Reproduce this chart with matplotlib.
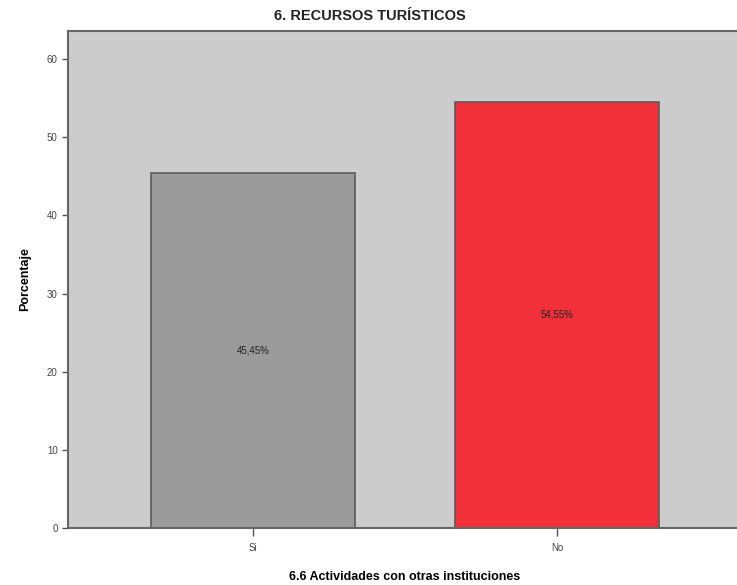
import matplotlib
matplotlib.use("Agg")
import matplotlib.pyplot as plt

categories = ["Si", "No"]
values = [45.45, 54.55]
labels = ["45,45%", "54,55%"]
colors = ["#9b9b9b", "#f1303a"]
yticks = [0, 10, 20, 30, 40, 50, 60]

plt.rcParams['font.family'] = ['Liberation Sans', 'DejaVu Sans']

fig = plt.figure(figsize=(7.37, 5.85), dpi=100)
ax = fig.add_axes([68/737, (585-528)/585, (742-68)/737, (528-31)/585])
ax.set_facecolor("#cccccc")

x = list(range(len(categories)))
bars = ax.bar(x, values, width=0.67, color=colors, edgecolor="#5a5a5a", linewidth=1.2, zorder=2)
for xi, v, lab in zip(x, values, labels):
    ax.text(xi, v / 2, lab, ha="center", va="center", fontsize=7, color="#222222", zorder=3)

ax.set_xlim(-0.608, 1.608)
ax.set_ylim(0, 63.6)
ax.set_xticks(x)
ax.set_xticklabels(categories, fontsize=7, color="#444444")
ax.set_yticks(yticks)
ax.set_yticklabels([str(t) for t in yticks], fontsize=7, color="#444444")
ax.tick_params(axis="x", length=6, width=1, color="#555555", pad=5)
ax.tick_params(axis="y", length=4, width=1, color="#555555")

for s in ax.spines.values():
    s.set_color("#666666")
    s.set_linewidth(1.5)

ax.set_ylabel("Porcentaje", fontsize=9, fontweight="bold", labelpad=11)
ax.set_xlabel("6.6 Actividades con otras instituciones", fontsize=9, fontweight="bold", labelpad=13)
fig.text(370/737, 1 - 16/585, "6. RECURSOS TURÍSTICOS", ha="center", va="center",
         fontsize=10.5, fontweight="bold", color="#222222")

fig.savefig("out.png", dpi=100)
